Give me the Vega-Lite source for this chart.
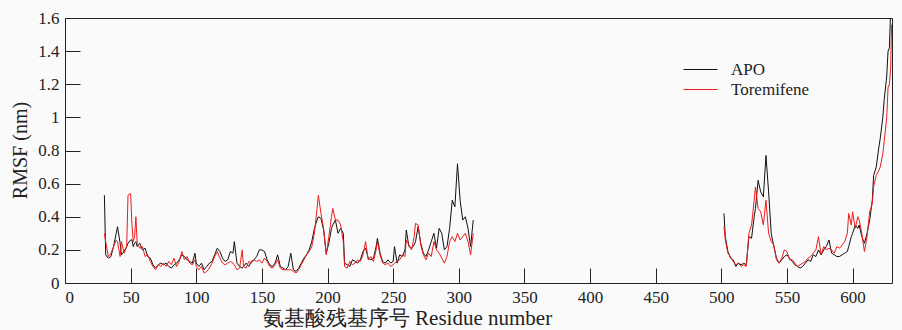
{
"$schema":"https://vega.github.io/schema/vega-lite/v6.json",
"width":827,"height":265,
"autosize":{"type":"none"},
"padding":{"left":65,"top":18,"right":10,"bottom":47},
"background":"#fafafa",
"config":{"view":{"stroke":"#222","strokeWidth":1},"font":"Liberation Serif"},
"data":{"values":[
{"r":30,"seg":1,"APO":0.53,"Toremifene":0.30},
{"r":31,"seg":1,"APO":0.17,"Toremifene":0.25},
{"r":33,"seg":1,"APO":0.15,"Toremifene":0.16},
{"r":35,"seg":1,"APO":0.16,"Toremifene":0.18},
{"r":37,"seg":1,"APO":0.22,"Toremifene":0.22},
{"r":39,"seg":1,"APO":0.30,"Toremifene":0.26},
{"r":40,"seg":1,"APO":0.34,"Toremifene":0.25},
{"r":42,"seg":1,"APO":0.24,"Toremifene":0.16},
{"r":43,"seg":1,"APO":0.17,"Toremifene":0.25},
{"r":45,"seg":1,"APO":0.19,"Toremifene":0.18},
{"r":47,"seg":1,"APO":0.22,"Toremifene":0.22},
{"r":48,"seg":1,"APO":0.24,"Toremifene":0.53},
{"r":50,"seg":1,"APO":0.26,"Toremifene":0.54},
{"r":51,"seg":1,"APO":0.26,"Toremifene":0.35},
{"r":52,"seg":1,"APO":0.22,"Toremifene":0.25},
{"r":53,"seg":1,"APO":0.24,"Toremifene":0.28},
{"r":54,"seg":1,"APO":0.25,"Toremifene":0.40},
{"r":55,"seg":1,"APO":0.22,"Toremifene":0.24},
{"r":57,"seg":1,"APO":0.24,"Toremifene":0.21},
{"r":59,"seg":1,"APO":0.20,"Toremifene":0.22},
{"r":61,"seg":1,"APO":0.21,"Toremifene":0.16},
{"r":63,"seg":1,"APO":0.16,"Toremifene":0.17},
{"r":65,"seg":1,"APO":0.15,"Toremifene":0.13},
{"r":67,"seg":1,"APO":0.11,"Toremifene":0.10},
{"r":69,"seg":1,"APO":0.09,"Toremifene":0.08},
{"r":71,"seg":1,"APO":0.11,"Toremifene":0.11},
{"r":73,"seg":1,"APO":0.12,"Toremifene":0.10},
{"r":75,"seg":1,"APO":0.11,"Toremifene":0.12},
{"r":77,"seg":1,"APO":0.12,"Toremifene":0.10},
{"r":79,"seg":1,"APO":0.10,"Toremifene":0.13},
{"r":81,"seg":1,"APO":0.09,"Toremifene":0.11},
{"r":83,"seg":1,"APO":0.11,"Toremifene":0.15},
{"r":85,"seg":1,"APO":0.12,"Toremifene":0.10},
{"r":87,"seg":1,"APO":0.14,"Toremifene":0.13},
{"r":89,"seg":1,"APO":0.17,"Toremifene":0.19},
{"r":91,"seg":1,"APO":0.16,"Toremifene":0.14},
{"r":93,"seg":1,"APO":0.14,"Toremifene":0.16},
{"r":95,"seg":1,"APO":0.13,"Toremifene":0.12},
{"r":97,"seg":1,"APO":0.12,"Toremifene":0.11},
{"r":99,"seg":1,"APO":0.18,"Toremifene":0.14},
{"r":100,"seg":1,"APO":0.12,"Toremifene":0.10},
{"r":102,"seg":1,"APO":0.10,"Toremifene":0.08},
{"r":104,"seg":1,"APO":0.12,"Toremifene":0.10},
{"r":106,"seg":1,"APO":0.08,"Toremifene":0.06},
{"r":108,"seg":1,"APO":0.10,"Toremifene":0.07},
{"r":110,"seg":1,"APO":0.12,"Toremifene":0.09},
{"r":112,"seg":1,"APO":0.13,"Toremifene":0.12},
{"r":114,"seg":1,"APO":0.17,"Toremifene":0.16},
{"r":116,"seg":1,"APO":0.21,"Toremifene":0.19},
{"r":118,"seg":1,"APO":0.19,"Toremifene":0.15},
{"r":120,"seg":1,"APO":0.15,"Toremifene":0.12},
{"r":122,"seg":1,"APO":0.13,"Toremifene":0.11},
{"r":124,"seg":1,"APO":0.14,"Toremifene":0.12},
{"r":126,"seg":1,"APO":0.19,"Toremifene":0.13},
{"r":128,"seg":1,"APO":0.18,"Toremifene":0.12},
{"r":129,"seg":1,"APO":0.25,"Toremifene":0.11},
{"r":131,"seg":1,"APO":0.12,"Toremifene":0.08},
{"r":133,"seg":1,"APO":0.10,"Toremifene":0.09},
{"r":135,"seg":1,"APO":0.09,"Toremifene":0.20},
{"r":136,"seg":1,"APO":0.10,"Toremifene":0.10},
{"r":138,"seg":1,"APO":0.12,"Toremifene":0.09},
{"r":140,"seg":1,"APO":0.10,"Toremifene":0.13},
{"r":142,"seg":1,"APO":0.13,"Toremifene":0.12},
{"r":144,"seg":1,"APO":0.14,"Toremifene":0.14},
{"r":146,"seg":1,"APO":0.16,"Toremifene":0.13},
{"r":148,"seg":1,"APO":0.20,"Toremifene":0.14},
{"r":150,"seg":1,"APO":0.20,"Toremifene":0.12},
{"r":152,"seg":1,"APO":0.19,"Toremifene":0.15},
{"r":154,"seg":1,"APO":0.14,"Toremifene":0.13},
{"r":156,"seg":1,"APO":0.11,"Toremifene":0.10},
{"r":158,"seg":1,"APO":0.10,"Toremifene":0.09},
{"r":160,"seg":1,"APO":0.12,"Toremifene":0.11},
{"r":162,"seg":1,"APO":0.17,"Toremifene":0.14},
{"r":164,"seg":1,"APO":0.10,"Toremifene":0.09},
{"r":166,"seg":1,"APO":0.09,"Toremifene":0.08},
{"r":168,"seg":1,"APO":0.08,"Toremifene":0.08},
{"r":170,"seg":1,"APO":0.10,"Toremifene":0.08},
{"r":172,"seg":1,"APO":0.18,"Toremifene":0.08},
{"r":174,"seg":1,"APO":0.08,"Toremifene":0.07},
{"r":176,"seg":1,"APO":0.07,"Toremifene":0.06},
{"r":178,"seg":1,"APO":0.09,"Toremifene":0.08},
{"r":180,"seg":1,"APO":0.12,"Toremifene":0.11},
{"r":182,"seg":1,"APO":0.15,"Toremifene":0.14},
{"r":184,"seg":1,"APO":0.17,"Toremifene":0.17},
{"r":186,"seg":1,"APO":0.20,"Toremifene":0.19},
{"r":188,"seg":1,"APO":0.25,"Toremifene":0.22},
{"r":190,"seg":1,"APO":0.33,"Toremifene":0.30},
{"r":192,"seg":1,"APO":0.38,"Toremifene":0.45},
{"r":193,"seg":1,"APO":0.40,"Toremifene":0.53},
{"r":195,"seg":1,"APO":0.39,"Toremifene":0.42},
{"r":197,"seg":1,"APO":0.32,"Toremifene":0.33},
{"r":199,"seg":1,"APO":0.18,"Toremifene":0.17},
{"r":201,"seg":1,"APO":0.24,"Toremifene":0.28},
{"r":203,"seg":1,"APO":0.33,"Toremifene":0.40},
{"r":204,"seg":1,"APO":0.35,"Toremifene":0.45},
{"r":206,"seg":1,"APO":0.38,"Toremifene":0.38},
{"r":208,"seg":1,"APO":0.30,"Toremifene":0.38},
{"r":210,"seg":1,"APO":0.33,"Toremifene":0.35},
{"r":212,"seg":1,"APO":0.30,"Toremifene":0.25},
{"r":213,"seg":1,"APO":0.12,"Toremifene":0.10},
{"r":215,"seg":1,"APO":0.11,"Toremifene":0.09},
{"r":217,"seg":1,"APO":0.10,"Toremifene":0.13},
{"r":219,"seg":1,"APO":0.14,"Toremifene":0.11},
{"r":221,"seg":1,"APO":0.13,"Toremifene":0.12},
{"r":223,"seg":1,"APO":0.12,"Toremifene":0.14},
{"r":225,"seg":1,"APO":0.14,"Toremifene":0.13},
{"r":227,"seg":1,"APO":0.19,"Toremifene":0.17},
{"r":229,"seg":1,"APO":0.21,"Toremifene":0.25},
{"r":231,"seg":1,"APO":0.15,"Toremifene":0.14},
{"r":233,"seg":1,"APO":0.14,"Toremifene":0.16},
{"r":235,"seg":1,"APO":0.15,"Toremifene":0.13},
{"r":237,"seg":1,"APO":0.22,"Toremifene":0.20},
{"r":238,"seg":1,"APO":0.27,"Toremifene":0.25},
{"r":240,"seg":1,"APO":0.18,"Toremifene":0.17},
{"r":242,"seg":1,"APO":0.13,"Toremifene":0.12},
{"r":244,"seg":1,"APO":0.12,"Toremifene":0.11},
{"r":246,"seg":1,"APO":0.14,"Toremifene":0.12},
{"r":248,"seg":1,"APO":0.12,"Toremifene":0.10},
{"r":250,"seg":1,"APO":0.13,"Toremifene":0.11},
{"r":251,"seg":1,"APO":0.22,"Toremifene":0.12},
{"r":253,"seg":1,"APO":0.12,"Toremifene":0.13},
{"r":255,"seg":1,"APO":0.17,"Toremifene":0.14},
{"r":257,"seg":1,"APO":0.16,"Toremifene":0.17},
{"r":259,"seg":1,"APO":0.20,"Toremifene":0.16},
{"r":260,"seg":1,"APO":0.32,"Toremifene":0.26},
{"r":262,"seg":1,"APO":0.22,"Toremifene":0.23},
{"r":264,"seg":1,"APO":0.21,"Toremifene":0.20},
{"r":266,"seg":1,"APO":0.23,"Toremifene":0.28},
{"r":267,"seg":1,"APO":0.25,"Toremifene":0.36},
{"r":269,"seg":1,"APO":0.34,"Toremifene":0.35},
{"r":271,"seg":1,"APO":0.24,"Toremifene":0.23},
{"r":273,"seg":1,"APO":0.18,"Toremifene":0.17},
{"r":275,"seg":1,"APO":0.16,"Toremifene":0.14},
{"r":277,"seg":1,"APO":0.20,"Toremifene":0.18},
{"r":279,"seg":1,"APO":0.25,"Toremifene":0.16},
{"r":281,"seg":1,"APO":0.30,"Toremifene":0.25},
{"r":283,"seg":1,"APO":0.21,"Toremifene":0.20},
{"r":285,"seg":1,"APO":0.33,"Toremifene":0.18},
{"r":287,"seg":1,"APO":0.30,"Toremifene":0.15},
{"r":289,"seg":1,"APO":0.20,"Toremifene":0.12},
{"r":291,"seg":1,"APO":0.22,"Toremifene":0.16},
{"r":293,"seg":1,"APO":0.33,"Toremifene":0.25},
{"r":295,"seg":1,"APO":0.50,"Toremifene":0.28},
{"r":297,"seg":1,"APO":0.46,"Toremifene":0.25},
{"r":299,"seg":1,"APO":0.72,"Toremifene":0.30},
{"r":301,"seg":1,"APO":0.50,"Toremifene":0.26},
{"r":303,"seg":1,"APO":0.38,"Toremifene":0.28},
{"r":305,"seg":1,"APO":0.40,"Toremifene":0.30},
{"r":307,"seg":1,"APO":0.33,"Toremifene":0.25},
{"r":309,"seg":1,"APO":0.22,"Toremifene":0.17},
{"r":311,"seg":1,"APO":0.38,"Toremifene":0.30},
{"r":502,"seg":2,"APO":0.42,"Toremifene":0.34},
{"r":503,"seg":2,"APO":0.28,"Toremifene":0.26},
{"r":505,"seg":2,"APO":0.19,"Toremifene":0.18},
{"r":507,"seg":2,"APO":0.15,"Toremifene":0.16},
{"r":509,"seg":2,"APO":0.14,"Toremifene":0.13},
{"r":511,"seg":2,"APO":0.10,"Toremifene":0.11},
{"r":513,"seg":2,"APO":0.12,"Toremifene":0.12},
{"r":515,"seg":2,"APO":0.11,"Toremifene":0.10},
{"r":517,"seg":2,"APO":0.12,"Toremifene":0.11},
{"r":519,"seg":2,"APO":0.11,"Toremifene":0.10},
{"r":521,"seg":2,"APO":0.28,"Toremifene":0.30},
{"r":523,"seg":2,"APO":0.27,"Toremifene":0.35},
{"r":525,"seg":2,"APO":0.40,"Toremifene":0.50},
{"r":526,"seg":2,"APO":0.45,"Toremifene":0.58},
{"r":528,"seg":2,"APO":0.62,"Toremifene":0.45},
{"r":530,"seg":2,"APO":0.55,"Toremifene":0.43},
{"r":532,"seg":2,"APO":0.52,"Toremifene":0.35},
{"r":534,"seg":2,"APO":0.77,"Toremifene":0.50},
{"r":536,"seg":2,"APO":0.55,"Toremifene":0.30},
{"r":538,"seg":2,"APO":0.30,"Toremifene":0.25},
{"r":540,"seg":2,"APO":0.22,"Toremifene":0.23},
{"r":542,"seg":2,"APO":0.15,"Toremifene":0.14},
{"r":544,"seg":2,"APO":0.12,"Toremifene":0.12},
{"r":546,"seg":2,"APO":0.14,"Toremifene":0.15},
{"r":548,"seg":2,"APO":0.16,"Toremifene":0.20},
{"r":550,"seg":2,"APO":0.17,"Toremifene":0.19},
{"r":552,"seg":2,"APO":0.15,"Toremifene":0.14},
{"r":554,"seg":2,"APO":0.13,"Toremifene":0.14},
{"r":556,"seg":2,"APO":0.11,"Toremifene":0.12},
{"r":558,"seg":2,"APO":0.10,"Toremifene":0.10},
{"r":560,"seg":2,"APO":0.09,"Toremifene":0.11},
{"r":562,"seg":2,"APO":0.10,"Toremifene":0.12},
{"r":564,"seg":2,"APO":0.12,"Toremifene":0.13},
{"r":566,"seg":2,"APO":0.14,"Toremifene":0.15},
{"r":568,"seg":2,"APO":0.13,"Toremifene":0.16},
{"r":570,"seg":2,"APO":0.17,"Toremifene":0.18},
{"r":572,"seg":2,"APO":0.16,"Toremifene":0.20},
{"r":574,"seg":2,"APO":0.20,"Toremifene":0.28},
{"r":576,"seg":2,"APO":0.17,"Toremifene":0.17},
{"r":578,"seg":2,"APO":0.20,"Toremifene":0.22},
{"r":580,"seg":2,"APO":0.22,"Toremifene":0.20},
{"r":582,"seg":2,"APO":0.26,"Toremifene":0.21},
{"r":584,"seg":2,"APO":0.18,"Toremifene":0.20},
{"r":586,"seg":2,"APO":0.17,"Toremifene":0.18},
{"r":588,"seg":2,"APO":0.16,"Toremifene":0.22},
{"r":590,"seg":2,"APO":0.16,"Toremifene":0.21},
{"r":592,"seg":2,"APO":0.17,"Toremifene":0.23},
{"r":594,"seg":2,"APO":0.18,"Toremifene":0.25},
{"r":596,"seg":2,"APO":0.19,"Toremifene":0.30},
{"r":597,"seg":2,"APO":0.22,"Toremifene":0.42},
{"r":599,"seg":2,"APO":0.28,"Toremifene":0.35},
{"r":600,"seg":2,"APO":0.30,"Toremifene":0.43},
{"r":602,"seg":2,"APO":0.35,"Toremifene":0.33},
{"r":604,"seg":2,"APO":0.33,"Toremifene":0.40},
{"r":605,"seg":2,"APO":0.35,"Toremifene":0.38},
{"r":607,"seg":2,"APO":0.28,"Toremifene":0.30},
{"r":609,"seg":2,"APO":0.24,"Toremifene":0.19},
{"r":611,"seg":2,"APO":0.30,"Toremifene":0.28},
{"r":613,"seg":2,"APO":0.38,"Toremifene":0.43},
{"r":615,"seg":2,"APO":0.50,"Toremifene":0.48},
{"r":616,"seg":2,"APO":0.65,"Toremifene":0.58},
{"r":618,"seg":2,"APO":0.70,"Toremifene":0.65},
{"r":620,"seg":2,"APO":0.82,"Toremifene":0.68},
{"r":621,"seg":2,"APO":0.87,"Toremifene":0.70},
{"r":623,"seg":2,"APO":1.00,"Toremifene":0.78},
{"r":624,"seg":2,"APO":1.10,"Toremifene":0.85},
{"r":626,"seg":2,"APO":1.25,"Toremifene":1.00},
{"r":627,"seg":2,"APO":1.40,"Toremifene":1.18},
{"r":628,"seg":2,"APO":1.42,"Toremifene":1.20},
{"r":629,"seg":2,"APO":1.65,"Toremifene":1.30},
{"r":629.7,"seg":2,"APO":1.70,"Toremifene":1.56}
]},
"transform":[{"fold":["APO","Toremifene"],"as":["series","v"]}],
"mark":{"type":"line","strokeWidth":1,"clip":true},
"encoding":{
"x":{"field":"r","type":"quantitative","scale":{"domain":[0,630],"nice":false,"zero":false},
"axis":{"orient":"bottom","zindex":1,"values":[0,50,100,150,200,250,300,350,400,450,500,550,600],"ticks":true,"tickSize":-15,"tickColor":"#222","domain":false,"grid":false,"labelFont":"Liberation Serif","labelFontSize":17,"labelColor":"#222","labelPadding":21,"title":"氨基酸残基序号 Residue number","titleFont":"Liberation Serif","titleFontSize":21,"titleFontWeight":"normal","titleColor":"#222","titleX":342,"titleY":35,"titleBaseline":"middle","titleAlign":"center"}},
"y":{"field":"v","type":"quantitative","scale":{"domain":[0,1.6],"nice":false},
"axis":{"orient":"left","zindex":1,"values":[0,0.2,0.4,0.6,0.8,1,1.2,1.4,1.6],"format":"~g","ticks":true,"tickSize":-15,"tickColor":"#222","domain":false,"grid":false,"labelFont":"Liberation Serif","labelFontSize":17,"labelColor":"#222","labelPadding":21,"title":"RMSF (nm)","titleFont":"Liberation Serif","titleFontSize":20,"titleFontWeight":"normal","titleColor":"#222","titleX":-45,"titleY":132,"titleAngle":-90,"titleBaseline":"middle","titleAlign":"center"}},
"color":{"field":"series","type":"nominal","scale":{"domain":["APO","Toremifene"],"range":["#111111","#ee1c1c"]},
"legend":{"orient":"none","legendX":626,"legendY":42,"title":null,"symbolType":"M-2,0H2","symbolSize":289,"symbolStrokeWidth":1.2,"labelFont":"Liberation Serif","labelFontSize":17,"labelColor":"#222","labelOffset":21,"rowPadding":2,"padding":0}},
"detail":{"field":"seg","type":"nominal"}
}
}
